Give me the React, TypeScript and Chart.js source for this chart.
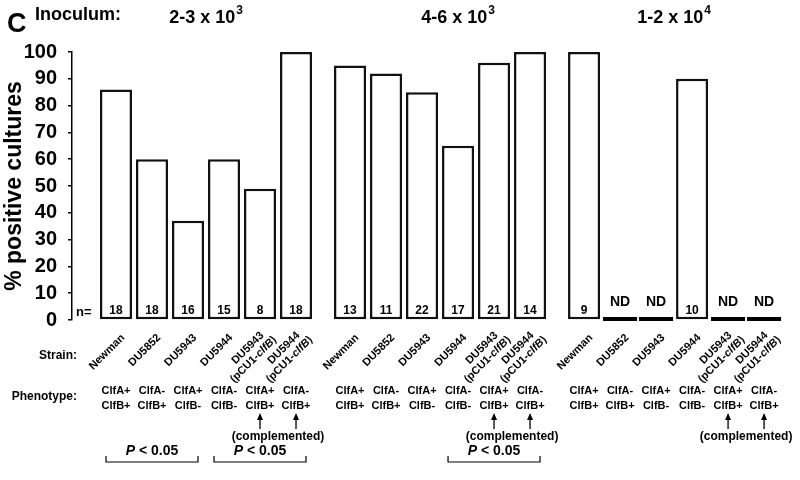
import React, { useEffect, useRef } from 'react';
import { Chart, registerables } from 'chart.js';

Chart.register(...registerables);

// ---------- data ----------
const inoculumLabels = ['2-3 x 10', '4-6 x 10', '1-2 x 10'];
const inoculumExponents = ['3', '3', '4'];
const strainNames = ['Newman', 'DU5852', 'DU5943', 'DU5944', 'DU5943', 'DU5944'];
const strainHasPlasmid = [false, false, false, false, true, true];
const phenotypeClfA = ['ClfA+', 'ClfA-', 'ClfA+', 'ClfA-', 'ClfA+', 'ClfA-'];
const phenotypeClfB = ['ClfB+', 'ClfB+', 'ClfB-', 'ClfB-', 'ClfB+', 'ClfB+'];
const positiveLow = [86, 60, 37, 60, 49, 100];
const positiveMid = [95, 92, 85, 65, 96, 100];
const positiveHigh = [100, null, null, 90, null, null];
const countsLow = [18, 18, 16, 15, 8, 18];
const countsMid = [13, 11, 22, 17, 21, 14];
const countsHigh = [9, null, null, 10, null, null];
const complementedIndex = [4, 5];
const significance = [
  { group: 0, from: 0, to: 2, label: 'P < 0.05' },
  { group: 0, from: 3, to: 5, label: 'P < 0.05' },
  { group: 1, from: 3, to: 5, label: 'P < 0.05' },
];
const yTickValues = [0, 10, 20, 30, 40, 50, 60, 70, 80, 90, 100];

const groupValues = [positiveLow, positiveMid, positiveHigh];
const groupCounts = [countsLow, countsMid, countsHigh];

// ---------- layout ----------
const FONT = 'Arial, "Liberation Sans", Helvetica, sans-serif';
const GROUP_STRIDE = 6.5;
const headerAnchor = [2.5, 3, 2.5];
const pos = (g: number, i: number) => g * GROUP_STRIDE + i;

const barData: { x: number; y: number | null }[] = [];
groupValues.forEach((vals, g) => vals.forEach((v, i) => barData.push({ x: pos(g, i), y: v })));

const annotate = {
  id: 'annotate',
  afterDraw(chart: any) {
    const ctx: CanvasRenderingContext2D = chart.ctx;
    const xs = chart.scales.x;
    const ys = chart.scales.y;
    const y0 = ys.getPixelForValue(0);
    const meta = chart.getDatasetMeta(0);
    const bw = meta.data.find((d: any) => d && d.width)?.width || 32;
    ctx.save();
    ctx.fillStyle = '#000';
    ctx.strokeStyle = '#000';

    // Header
    ctx.textBaseline = 'alphabetic';
    ctx.textAlign = 'left';
    ctx.font = `bold 27px ${FONT}`;
    ctx.fillText('C', 7, 32);
    ctx.font = `bold 18px ${FONT}`;
    ctx.fillText('Inoculum:', 35, 20);
    inoculumLabels.forEach((lab, g) => {
      const cx = xs.getPixelForValue(pos(g, headerAnchor[g]));
      ctx.font = `bold 18px ${FONT}`;
      const w1 = ctx.measureText(lab).width;
      ctx.font = `bold 12px ${FONT}`;
      const w2 = ctx.measureText(inoculumExponents[g]).width;
      const left = cx - (w1 + w2 + 1) / 2;
      ctx.font = `bold 18px ${FONT}`;
      ctx.fillText(lab, left, 23);
      ctx.font = `bold 12px ${FONT}`;
      ctx.fillText(inoculumExponents[g], left + w1 + 1, 14);
    });

    // n= and counts / ND
    ctx.font = `bold 13px ${FONT}`;
    ctx.textAlign = 'left';
    ctx.textBaseline = 'middle';
    ctx.fillText('n=', 76, y0 - 8);
    groupCounts.forEach((counts, g) => {
      counts.forEach((n, i) => {
        const cx = xs.getPixelForValue(pos(g, i));
        ctx.textAlign = 'center';
        if (n === null) {
          ctx.font = `bold 14px ${FONT}`;
          ctx.fillText('ND', cx, y0 - 18);
          ctx.fillRect(cx - bw / 2 - 1, y0 - 3, bw + 2, 4);
        } else {
          ctx.font = `bold 12px ${FONT}`;
          ctx.fillText(String(n), cx, y0 - 9);
        }
      });
    });

    // Strain labels
    ctx.font = `bold 12px ${FONT}`;
    ctx.textAlign = 'right';
    ctx.fillText('Strain:', 77, 356);
    ctx.fillText('Phenotype:', 77, 397);
    for (let g = 0; g < 3; g++) {
      strainNames.forEach((name, i) => {
        const cx = xs.getPixelForValue(pos(g, i));
        ctx.save();
        ctx.translate(cx + 7, 336);
        ctx.rotate(-Math.PI / 4);
        ctx.textAlign = 'right';
        ctx.textBaseline = 'middle';
        ctx.font = `bold 11px ${FONT}`;
        if (strainHasPlasmid[i]) {
          ctx.fillText(name, -2, -5);
          const p1 = '(pCU1-';
          const p2 = 'clfB';
          const p3 = ')';
          ctx.font = `bold 11px ${FONT}`;
          const w1 = ctx.measureText(p1).width;
          const w3 = ctx.measureText(p3).width;
          ctx.font = `italic bold 11px ${FONT}`;
          const w2 = ctx.measureText(p2).width;
          ctx.textAlign = 'left';
          let x = 4 - (w1 + w2 + w3);
          ctx.font = `bold 11px ${FONT}`;
          ctx.fillText(p1, x, 7);
          x += w1;
          ctx.font = `italic bold 11px ${FONT}`;
          ctx.fillText(p2, x, 7);
          x += w2;
          ctx.font = `bold 11px ${FONT}`;
          ctx.fillText(p3, x, 7);
        } else {
          ctx.fillText(name, 0, 0);
        }
        ctx.restore();
      });

      // Phenotypes
      ctx.textAlign = 'center';
      ctx.textBaseline = 'middle';
      ctx.font = `bold 11px ${FONT}`;
      phenotypeClfA.forEach((a, i) => {
        const cx = xs.getPixelForValue(pos(g, i));
        ctx.fillText(a, cx, 391);
        ctx.fillText(phenotypeClfB[i], cx, 406);
      });

      // arrows + complemented
      const cxs = complementedIndex.map((i) => xs.getPixelForValue(pos(g, i)));
      ctx.lineWidth = 1.3;
      cxs.forEach((cx) => {
        ctx.beginPath();
        ctx.moveTo(cx, 429);
        ctx.lineTo(cx, 418);
        ctx.stroke();
        ctx.beginPath();
        ctx.moveTo(cx, 413);
        ctx.lineTo(cx - 3, 420);
        ctx.lineTo(cx + 3, 420);
        ctx.closePath();
        ctx.fill();
      });
      ctx.font = `bold 12px ${FONT}`;
      ctx.fillText('(complemented)', (cxs[0] + cxs[1]) / 2, 437);
    }

    // Significance brackets
    significance.forEach((s) => {
      const xa = xs.getPixelForValue(pos(s.group, s.from)) - 10;
      const xb = xs.getPixelForValue(pos(s.group, s.to)) + 10;
      const yl = 462;
      ctx.lineWidth = 1.2;
      ctx.beginPath();
      ctx.moveTo(xa, yl - 6);
      ctx.lineTo(xa, yl);
      ctx.lineTo(xb, yl);
      ctx.lineTo(xb, yl - 6);
      ctx.stroke();
      const pPart = s.label.slice(0, 1);
      const rest = s.label.slice(1);
      ctx.font = `italic bold 14px ${FONT}`;
      const wp = ctx.measureText(pPart).width;
      ctx.font = `bold 14px ${FONT}`;
      const wr = ctx.measureText(rest).width;
      const left = (xa + xb) / 2 - (wp + wr) / 2;
      ctx.textAlign = 'left';
      ctx.textBaseline = 'middle';
      ctx.font = `italic bold 14px ${FONT}`;
      ctx.fillText(pPart, left, yl - 11);
      ctx.font = `bold 14px ${FONT}`;
      ctx.fillText(rest, left + wp, yl - 11);
    });
    ctx.restore();
  },
};

export default function App() {
  const ref = useRef<HTMLCanvasElement>(null);
  useEffect(() => {
    if (!ref.current) return;
    const chart = new Chart(ref.current, {
      type: 'bar',
      data: {
        datasets: [
          {
            data: barData as any,
            backgroundColor: '#ffffff',
            borderColor: '#111111',
            borderWidth: 2.5,
            borderSkipped: false,
            barPercentage: 0.89,
            categoryPercentage: 1,
          },
        ],
      },
      options: {
        responsive: false,
        animation: false,
        events: [],
        layout: { padding: { top: 52, right: 10, bottom: 160, left: 0 } },
        plugins: { legend: { display: false }, tooltip: { enabled: false } },
        scales: {
          x: {
            type: 'linear',
            display: false,
            min: -1.222,
            max: 18.72,
            offset: false,
          },
          y: {
            min: 0,
            max: 100,
            afterFit: (s: any) => {
              s.width = 72;
            },
            afterBuildTicks: (s: any) => {
              s.ticks = yTickValues.map((v) => ({ value: v }));
            },
            border: { display: true, color: '#000', width: 1.5 },
            grid: { drawOnChartArea: false, drawTicks: true, tickLength: 4, color: '#000', lineWidth: 1.5 },
            ticks: {
              color: '#000',
              padding: 11,
              autoSkip: false,
              font: { family: FONT, size: 20, weight: 'bold' },
            },
            title: {
              display: true,
              text: '% positive cultures',
              color: '#000',
              padding: { top: 1, bottom: 0 },
              font: { family: FONT, size: 23, weight: 'bold' },
            },
          },
        },
      },
      plugins: [annotate],
    });
    return () => chart.destroy();
  }, []);
  return (
    <div style={{ position: 'fixed', left: 0, top: 0, width: 800, height: 480, background: '#fff' }}>
      <canvas ref={ref} width={800} height={480} style={{ width: 800, height: 480 }} />
    </div>
  );
}
